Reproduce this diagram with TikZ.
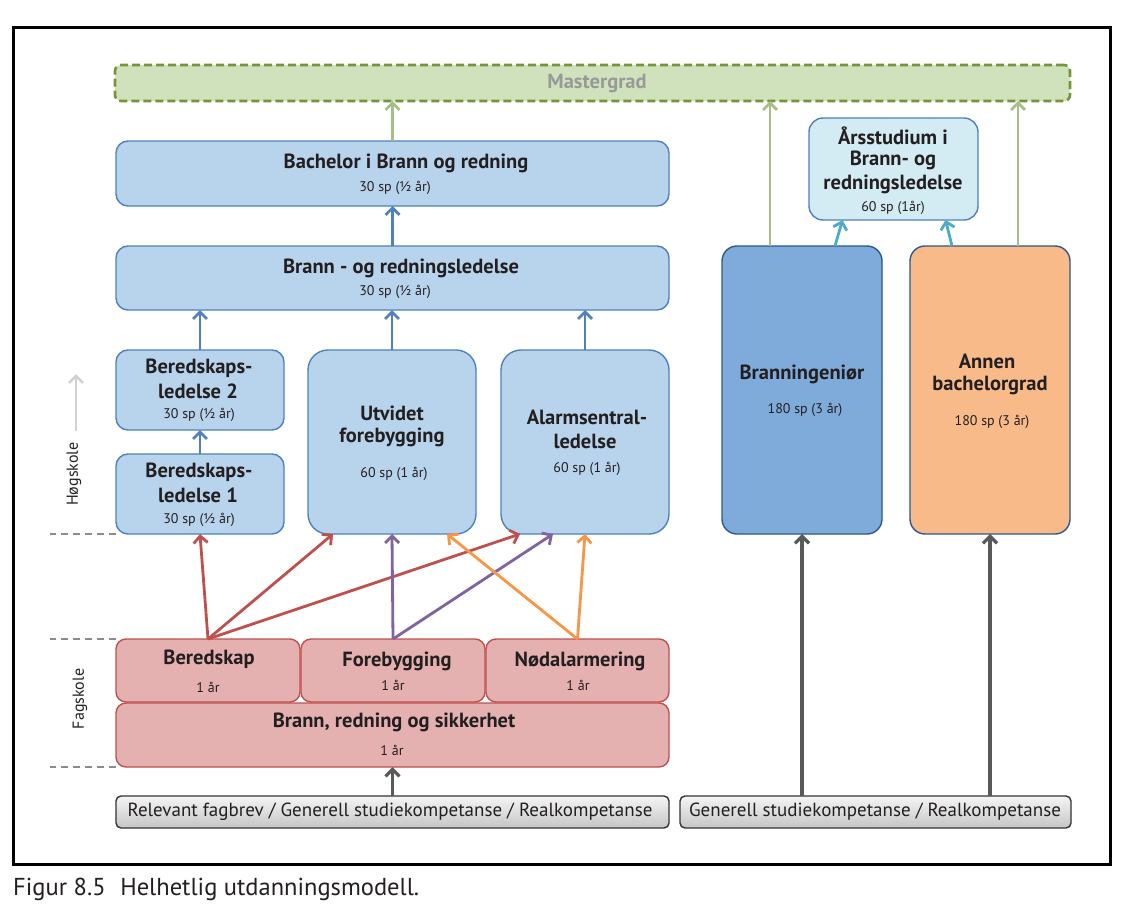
\documentclass[tikz,border=0pt]{standalone}
\usepackage{fontspec}
\setmainfont{PT Sans}
\usetikzlibrary{arrows.meta}
\definecolor{bfill}{HTML}{B8D3EC}
\definecolor{bline}{HTML}{4F81BD}
\definecolor{dfill}{HTML}{7FABDB}
\definecolor{dline}{HTML}{2A5A8C}
\definecolor{ofill}{HTML}{F9BA8A}
\definecolor{tfill}{HTML}{D3EBF2}
\definecolor{rfill}{HTML}{E4B0B0}
\definecolor{rline}{HTML}{C0504D}
\definecolor{gfill}{HTML}{CFE2BC}
\definecolor{gline}{HTML}{77933C}
\definecolor{garr}{HTML}{A6BF85}
\definecolor{tarr}{HTML}{4BACC6}
\definecolor{parr}{HTML}{8064A2}
\definecolor{oarr}{HTML}{F79646}
\definecolor{txt}{HTML}{231F20}
\tikzset{
  box/.style={draw, anchor=north west, inner sep=0pt, outer sep=0pt, line width=1.4pt},
  bluebox/.style={box, fill=bfill, draw=bline, rounded corners=12pt},
  bigblue/.style={box, fill=bfill, draw=bline, rounded corners=20pt},
  redbox/.style={box, fill=rfill, draw=rline, rounded corners=10pt},
  graybox/.style={box, top color=gray!8, bottom color=gray!45, draw=black!80, rounded corners=5pt},
  ttl/.style={font=\fontsize{20.5}{24}\selectfont\bfseries, text=txt, inner sep=0pt, align=center},
  sub/.style={font=\fontsize{14}{17}\selectfont, text=txt, inner sep=0pt},
  arr/.style={line width=2.8pt, -{Straight Barb[length=7pt,width=14pt,line width=2.8pt]}},
  bluearr/.style={arr, draw=bline},
  greenarr/.style={arr, draw=garr},
  tealarr/.style={arr, draw=tarr},
  redarr/.style={arr, draw=rline},
  purparr/.style={arr, draw=parr},
  orarr/.style={arr, draw=oarr},
  grayarr/.style={line width=3.2pt, draw=black!65, -{Straight Barb[length=7pt,width=14pt,line width=3.2pt]}},
  sep/.style={draw=black!45, dashed, dash pattern=on 7pt off 5pt, line width=1.5pt},
  side/.style={rotate=90, font=\fontsize{16}{19}\selectfont, text=txt, inner sep=0pt},
  req/.style={font=\fontsize{19}{22}\selectfont, text=txt, inner sep=0pt}
}
\begin{document}
\begin{tikzpicture}[x=1pt,y=-1pt]
\useasboundingbox (0,0) rectangle (1133,921);
\fill[white] (0,0) rectangle (1133,921);
\draw[line width=3pt] (13,27) rectangle (1110,864);

% Mastergrad
\node[box, fill=gfill, draw=gline, line width=2.6pt, dash pattern=on 8pt off 4pt, rounded corners=6pt, minimum width=955pt, minimum height=36pt] (master) at (115,65) {};
\node[ttl, text=black!40] (tmaster) at (597,83) {Mastergrad};

% Blue column
\node[bluebox, minimum width=553pt, minimum height=65pt] (bach) at (116,141) {};
\node[ttl] (tbach) at (406,163) {Bachelor i Brann og redning};
\node[sub] (sbach) at (395,188) {30 sp (½ år)};

\node[bluebox, minimum width=553pt, minimum height=64pt] (bl) at (116,246) {};
\node[ttl] (tbl) at (401,268) {Brann - og redningsledelse};
\node[sub] (sbl) at (395,292) {30 sp (½ år)};

\node[bluebox, minimum width=168pt, minimum height=80pt] (bl2) at (116,350) {};
\node[ttl] (tbl2a) at (199,368) {Beredskaps-};
\node[ttl] (tbl2b) at (198,391) {ledelse 2};
\node[sub] (sbl2) at (199,415) {30 sp (½ år)};

\node[bluebox, minimum width=168pt, minimum height=80pt] (bl1) at (116,454) {};
\node[ttl] (tbl1a) at (199,472) {Beredskaps-};
\node[ttl] (tbl1b) at (198,495) {ledelse 1};
\node[sub] (sbl1) at (199,520) {30 sp (½ år)};

\node[bigblue, minimum width=168pt, minimum height=184pt] (utv) at (308,350) {};
\node[ttl] (tutva) at (392,413) {Utvidet};
\node[ttl] (tutvb) at (392,437) {forebygging};
\node[sub] (sutv) at (394,474) {60 sp (1 år)};

\node[bigblue, minimum width=168pt, minimum height=184pt] (alarm) at (501,350) {};
\node[ttl] (talarma) at (587,417) {Alarmsentral-};
\node[ttl] (talarmb) at (585,441) {ledelse};
\node[sub] (salarm) at (587,469) {60 sp (1 år)};

% Right side
\node[box, fill=tfill, draw=bline, rounded corners=14pt, minimum width=169pt, minimum height=102pt] (aars) at (809,118) {};
\node[ttl] (taarsa) at (893,136) {Årsstudium i};
\node[ttl] (taarsb) at (893,160) {Brann- og};
\node[ttl] (taarsc) at (893,184) {redningsledelse};
\node[sub] (saars) at (893,208) {60 sp (1år)};

\node[box, fill=dfill, draw=dline, rounded corners=15pt, minimum width=160pt, minimum height=288pt] (bring) at (722,246) {};
\node[ttl] (tbring) at (802,374) {Branningeniør};
\node[sub] (sbring) at (805,410) {180 sp (3 år)};

\node[box, fill=ofill, draw=dline, rounded corners=15pt, minimum width=160pt, minimum height=288pt] (annen) at (910,246) {};
\node[ttl] (tannena) at (987,361) {Annen};
\node[ttl] (tannenb) at (990,385) {bachelorgrad};
\node[sub] (sannen) at (992,422) {180 sp (3 år)};

% Fagskole
\node[redbox, minimum width=184pt, minimum height=63pt] (bered) at (116,639) {};
\node[ttl] (tbered) at (209,659) {Beredskap};
\node[sub] (sbered) at (208,687) {1 år};
\node[redbox, minimum width=184pt, minimum height=63pt] (fore) at (301,639) {};
\node[ttl] (tfore) at (397,661) {Forebygging};
\node[sub] (sfore) at (393,685) {1 år};
\node[redbox, minimum width=183pt, minimum height=63pt] (nod) at (486,639) {};
\node[ttl] (tnod) at (580,661) {Nødalarmering};
\node[sub] (snod) at (578,685) {1 år};
\node[redbox, minimum width=553pt, minimum height=64pt] (brs) at (116,703) {};
\node[ttl] (tbrs) at (394,722) {Brann, redning og sikkerhet};
\node[sub] (sbrs) at (392,750) {1 år};

% Requirements
\node[graybox, minimum width=553pt, minimum height=32pt] (req1) at (116,796) {};
\node[req] (treq1) at (390,812) {Relevant fagbrev / Generell studiekompetanse / Realkompetanse};
\node[graybox, minimum width=391pt, minimum height=32pt] (req2) at (680,796) {};
\node[req] (treq2) at (875,812) {Generell studiekompetanse / Realkompetanse};

% Level markers
\draw[sep] (bl1.south west) -- ++(-66,0);
\draw[sep] (bered.north west) -- ++(-66,0);
\draw[sep] (brs.south west) -- ++(-66,0);
\node[side] (hs) at (74,474) {Høgskole};
\node[side] (fs) at (80,699) {Fagskole};
\coordinate (hsa0) at (76,431);
\coordinate (hsa1) at (76,374);
\draw[line width=2.6pt, draw=black!18, -{Straight Barb[length=7pt,width=14pt,line width=2.6pt]}] (hsa0) -- (hsa1);

% Arrows
\draw[greenarr] (bach.north) -- (bach.north |- master.south);
\draw[greenarr] ([xshift=-32pt]bring.north) -- ([xshift=-32pt]bring.north |- master.south);
\draw[greenarr] ([xshift=28pt]annen.north) -- ([xshift=28pt]annen.north |- master.south);
\draw[bluearr] (bl.north) -- (bach.south);
\draw[bluearr] (bl2.north) -- (bl2.north |- bl.south);
\draw[bluearr] (utv.north) -- (utv.north |- bl.south);
\draw[bluearr] (alarm.north) -- (alarm.north |- bl.south);
\draw[bluearr] (bl1.north) -- (bl2.south);
\draw[tealarr] ([xshift=33pt]bring.north) -- ([xshift=-51pt]aars.south);
\draw[tealarr] ([xshift=-38pt]annen.north) -- ([xshift=52pt]aars.south);
\draw[grayarr] (req1.north) -- (brs.south);
\draw[grayarr] (bring.south |- req2.north) -- (bring.south);
\draw[grayarr] (annen.south |- req2.north) -- (annen.south);
\draw[redarr] (bered.north) -- (bl1.south);
\draw[redarr] (bered.north) -- ([xshift=-59pt]utv.south);
\draw[redarr] (bered.north) -- ([xshift=-65pt]alarm.south);
\draw[purparr] (fore.north) -- (utv.south);
\draw[purparr] (fore.north) -- ([xshift=-32pt]alarm.south);
\draw[orarr] (nod.north) -- ([xshift=55pt]utv.south);
\draw[orarr] (nod.north) -- (alarm.south);

% Caption
\node[anchor=base west, font=\fontsize{24.5}{28}\selectfont, text=txt, inner sep=0pt] (cap) at (13,895) {Figur 8.5\hspace{0.6em}Helhetlig utdanningsmodell.};
\end{tikzpicture}
\end{document}
